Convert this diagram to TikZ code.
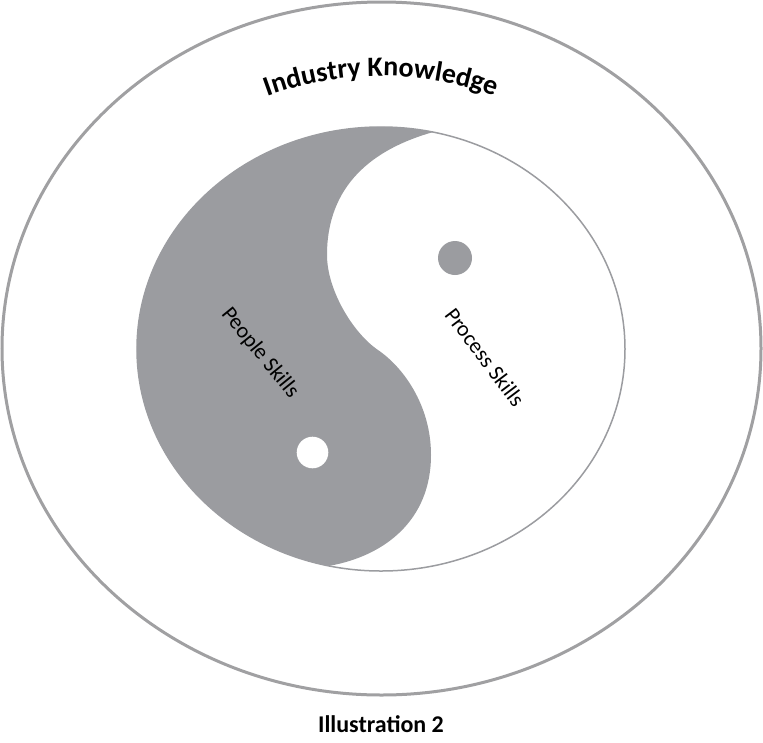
\documentclass[tikz,border=0pt]{standalone}
\usepackage{fontspec}
\setmainfont{Carlito}
\usetikzlibrary{decorations.text}
\definecolor{yygray}{RGB}{155,156,160}
\definecolor{ringgray}{RGB}{160,160,162}
\tikzset{
  skilllabel/.style={font=\fontsize{22}{26}\selectfont, text=black, inner sep=0pt},
  captionlabel/.style={font=\bfseries\fontsize{24}{28}\selectfont, text=black, inner sep=0pt}
}
\begin{document}
\begin{tikzpicture}[x=1pt,y=1pt]
\useasboundingbox (0,0) rectangle (763,-742);
% outer ring
\draw[ringgray, line width=3pt] (381.5,-348.5) ellipse[x radius=379.5, y radius=346.5];
% named points
\coordinate (T) at (432.98,-132.1);
\coordinate (B) at (329.02,-565.9);
\coordinate (L1) at (327,-255);
\coordinate (C) at (378,-350);
\coordinate (R1) at (431,-455);
% inner ellipse outline
\draw[yygray, line width=1.5pt] (381,-349) ellipse[x radius=244, y radius=222];
% gray half
\fill[yygray] (T) arc[start angle=77.7, end angle=257.7, x radius=244, y radius=222]
  .. controls (385,-556) and (431,-520) .. (R1)
  .. controls (431,-405) and (403,-367) .. (C)
  .. controls (353,-333) and (327,-290) .. (L1)
  .. controls (327,-185) and (373,-149) .. (T) -- cycle;
% dots
\fill[yygray] (455,-258) circle[radius=17];
\fill[white] (312.5,-452.5) circle[radius=15.8];
% labels
\node[skilllabel, rotate=-51] (people) at (260,-353) {People Skills};
\node[skilllabel, rotate=-53] (process) at (485,-357) {Process Skills};
\node[captionlabel, anchor=base] (caption) at (381,-732) {Illustration 2};
% curved title
\path[decorate, decoration={text along path, text align=center,
  text={|\bfseries\fontsize{28}{32}\selectfont|Industry Knowledge}}]
  (381,-406) ++(125:330) arc[start angle=125, end angle=55, radius=330];
\end{tikzpicture}
\end{document}
